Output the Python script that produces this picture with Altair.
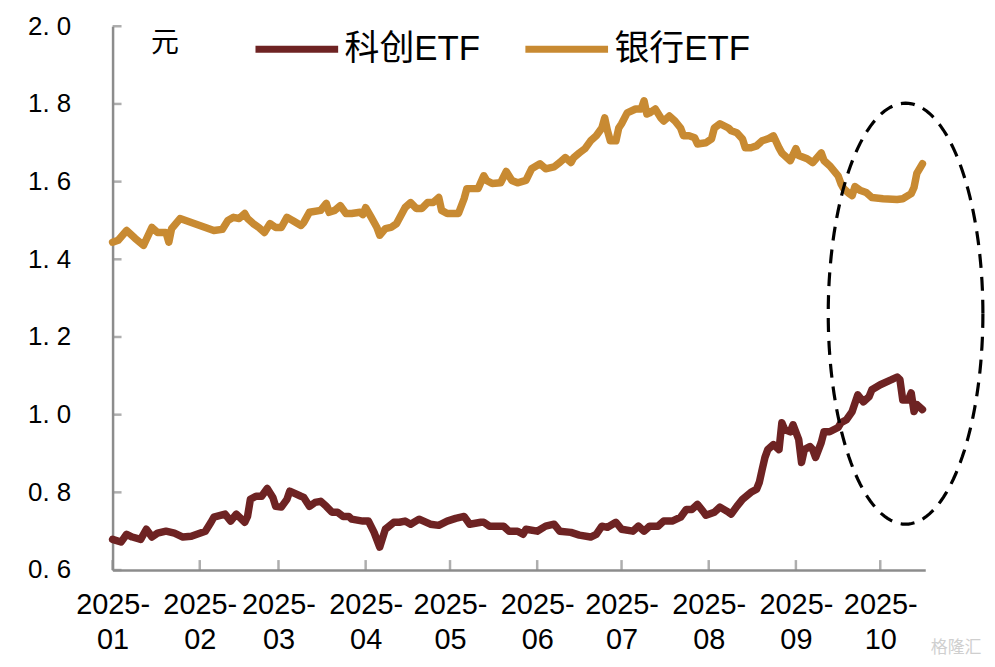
import altair as alt
import pandas as pd
import numpy as np

# ---- data (days since 2025-01-01, value in 元) ----
series_names = ["科创ETF", "银行ETF"]
series_colors = ["#6E2323", "#C88A32"]

kc_day = [0,3,5,7,10,12,14,16,19,22,25,28,33,35,36,40,42,44,47,48,
          49,51,53,55,57,58,60,62,63,67,68,70,72,74,76,78,80,82,84,85,
          89,91,93,95,97,100,102,104,106,109,113,116,119,122,125,127,131,132,134,139,
          141,144,146,147,151,154,157,159,163,166,170,172,174,176,179,181,185,187,189,191,
          194,196,199,202,204,206,208,210,211,214,216,219,220,222,224,227,229,230,231,232,
          233,235,237,238,239,241,242,244,245,246,248,249,250,252,253,255,258,259,261,263,
          265,267,269,270,273,277,279,280,281,283,284,285,286,288]
kc_val = [0.679,0.672,0.692,0.685,0.679,0.705,0.685,0.695,0.700,0.695,
          0.685,0.687,0.700,0.723,0.736,0.744,0.726,0.744,0.723,0.738,
          0.782,0.790,0.790,0.810,0.787,0.764,0.762,0.782,0.803,0.790,
          0.787,0.764,0.774,0.777,0.764,0.749,0.749,0.738,0.738,0.731,
          0.726,0.726,0.697,0.659,0.705,0.723,0.723,0.726,0.718,0.731,
          0.718,0.715,0.726,0.733,0.738,0.718,0.723,0.723,0.713,0.713,
          0.700,0.700,0.692,0.705,0.700,0.713,0.718,0.700,0.697,0.690,
          0.685,0.692,0.713,0.710,0.723,0.705,0.700,0.713,0.700,0.713,
          0.713,0.726,0.726,0.736,0.756,0.756,0.769,0.751,0.741,0.749,
          0.762,0.749,0.744,0.764,0.782,0.800,0.808,0.826,0.859,0.890,
          0.910,0.923,0.910,0.979,0.962,0.956,0.974,0.936,0.877,0.910,
          0.918,0.910,0.890,0.928,0.956,0.956,0.967,0.979,0.987,1.008,
          1.051,1.033,1.046,1.064,1.077,1.090,1.097,1.090,1.038,1.038,
          1.056,1.008,1.026,1.013]

bank_day = [0,2,5,8,11,14,16,19,20,21,24,26,31,36,39,41,43,45,47,48,
            50,52,54,56,58,60,62,64,67,68,70,74,76,77,79,81,83,85,88,89,
            90,92,94,95,97,99,101,104,106,108,110,112,114,116,117,119,123,125,126,130,
            132,133,135,138,140,142,144,147,149,152,154,157,159,161,163,164,166,168,170,172,
            174,175,176,177,179,180,181,183,186,188,189,190,191,193,195,196,198,200,202,203,
            205,207,208,211,213,214,216,219,220,222,224,225,227,229,231,233,235,237,238,241,
            243,244,247,249,252,253,255,258,259,260,262,263,264,266,268,270,274,279,281,284,
            285,286,288]
bank_val = [1.444,1.449,1.474,1.454,1.436,1.482,1.469,1.469,1.444,1.479,
            1.505,1.500,1.487,1.474,1.477,1.500,1.508,1.505,1.518,1.505,
            1.492,1.482,1.469,1.492,1.482,1.482,1.508,1.500,1.487,1.495,
            1.521,1.526,1.544,1.521,1.526,1.538,1.518,1.518,1.521,1.515,
            1.533,1.508,1.482,1.462,1.479,1.482,1.492,1.533,1.546,1.531,
            1.531,1.546,1.546,1.559,1.526,1.518,1.518,1.556,1.582,1.582,
            1.615,1.603,1.595,1.597,1.626,1.603,1.597,1.603,1.633,1.646,
            1.633,1.638,1.649,1.662,1.649,1.662,1.674,1.685,1.705,1.718,
            1.738,1.764,1.731,1.705,1.705,1.738,1.749,1.777,1.787,1.787,
            1.808,1.774,1.777,1.787,1.764,1.756,1.769,1.756,1.738,1.718,
            1.718,1.713,1.697,1.700,1.710,1.738,1.749,1.738,1.731,1.726,
            1.710,1.687,1.687,1.692,1.705,1.710,1.718,1.687,1.674,1.654,
            1.685,1.667,1.659,1.649,1.674,1.654,1.641,1.615,1.595,1.582,
            1.569,1.564,1.587,1.577,1.572,1.559,1.556,1.554,1.556,1.569,
            1.585,1.621,1.646]

y_ticks = [0.6, 0.8, 1.0, 1.2, 1.4, 1.6, 1.8, 2.0]
months = list(range(1, 11))

# dashed ellipse annotation (centre day / half-width in days, centre value / half-height)
ell_day, ell_rx, ell_val, ell_ry = 282.0, 27.5, 1.26, 0.542

start = pd.Timestamp("2025-01-01")


def mk(days, vals, name):
    return pd.DataFrame({"date": start + pd.to_timedelta(days, unit="D"),
                         "value": vals, "series": name})


df = pd.concat([mk(kc_day, kc_val, series_names[0]),
                mk(bank_day, bank_val, series_names[1])], ignore_index=True)

t = np.linspace(0, 2 * np.pi, 161)
ell = pd.DataFrame({"t": t,
                    "date": start + pd.to_timedelta(ell_day + ell_rx * np.cos(t), unit="D"),
                    "value": ell_val + ell_ry * np.sin(t)})

month_starts = [start + pd.DateOffset(months=m - 1) for m in months]
xt = pd.DataFrame({"date": month_starts, "value": y_ticks[0]})
yt = pd.DataFrame({"date": [start] * len(y_ticks), "value": y_ticks})

AX = "#8C8C8C"
xaxis = alt.Axis(values=[alt.DateTime(year=2025, month=m, date=1) for m in months],
                 labelExpr="['2025-', timeFormat(datum.value, '%m')]",
                 labelFont="Liberation Sans, sans-serif",
                 labelFontSize=29, labelColor="black", labelPadding=21,
                 labelLineHeight=35, labelAngle=0, labelFlush=False,
                 labelOverlap=False, ticks=False, tickSize=0, grid=False,
                 domainColor=AX, domainWidth=2.5, title=None)
yaxis = alt.Axis(values=y_ticks,
                 labelExpr="replace(format(datum.value, '.1f'), '.', '. ')",
                 labelFont="Liberation Sans, sans-serif", labelFontSize=26,
                 labelColor="black", labelPadding=42, ticks=False, tickSize=0,
                 grid=False, domainColor=AX, domainWidth=2.5,
                 title="元", titleAngle=0, titleX=52, titleY=17,
                 titleAlign="center", titleBaseline="middle",
                 titleFont="Noto Sans CJK SC", titleFontSize=28,
                 titleFontWeight="normal", titleColor="black")

xscale = alt.Scale(domain=[alt.DateTime(year=2025, month=1, date=1),
                           alt.DateTime(year=2025, month=10, date=17)])
yscale = alt.Scale(domain=[0.6, 2.0], nice=False, zero=False)

X = alt.X("date:T", scale=xscale, axis=xaxis)
Y = alt.Y("value:Q", scale=yscale, axis=yaxis)

lines = alt.Chart(df).mark_line(strokeWidth=7.5, strokeCap="round", strokeJoin="round").encode(
    x=X, y=Y,
    color=alt.Color("series:N", sort=series_names,
                    scale=alt.Scale(domain=series_names, range=series_colors),
                    legend=alt.Legend(orient="none", legendX=140, legendY=-22,
                                      direction="horizontal", title=None,
                                      symbolType="stroke", symbolSize=83 * 83,
                                      symbolStrokeWidth=7, labelFontSize=35,
                                      labelFont="Liberation Sans, Noto Sans CJK SC",
                                      labelColor="black", labelOffset=3,
                                      columnPadding=30, padding=0, labelLimit=300)),
)

ellipse = alt.Chart(ell).mark_line(color="black", strokeWidth=3.2,
                                   strokeDash=[14, 9]).encode(
    x=X, y=Y, order=alt.Order("t:Q"))

xticks = alt.Chart(xt).mark_tick(orient="vertical", size=10, thickness=2.5,
                                 color=AX, yOffset=-5).encode(x=X, y=Y)
yticks = alt.Chart(yt).mark_tick(orient="horizontal", size=9, thickness=2.5,
                                 color=AX, xOffset=4.5).encode(x=X, y=Y)

watermark = alt.Chart(pd.DataFrame({"w": ["格隆汇"]})).mark_text(
    font="Noto Sans CJK SC", fontSize=17, color="#CFCFCF", align="center",
    baseline="middle").encode(text="w:N", x=alt.value(847), y=alt.value(624))

chart = alt.layer(xticks, yticks, lines, ellipse, watermark).properties(
    width=816, height=546,
    autosize=alt.AutoSizeParams(type="none"),
    padding={"left": 105, "top": 17, "right": 62, "bottom": 88},
    background="white",
).configure_view(stroke=None)

chart.save("out.html", embed_options={"renderer": "svg", "actions": False})
